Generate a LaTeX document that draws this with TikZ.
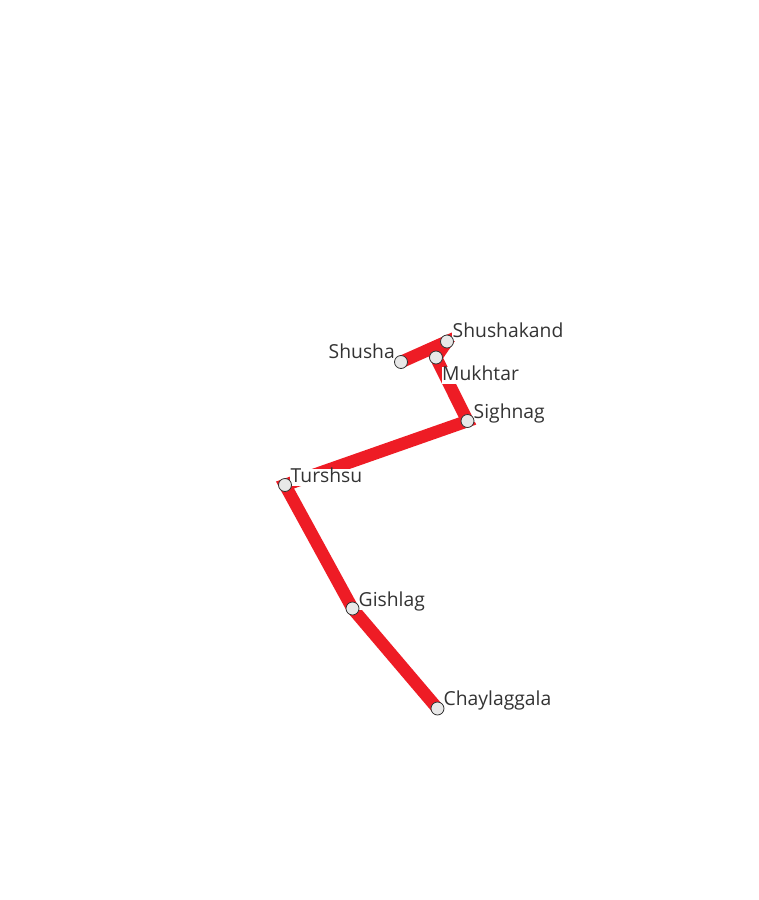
\documentclass[tikz,border=0pt]{standalone}
\usepackage{fontspec}
\setmainfont{Open Sans}
\usepackage{tikz}
\usetikzlibrary{positioning}
\definecolor{linered}{HTML}{EE1C25}
\definecolor{stopgray}{HTML}{E8E8E8}
\definecolor{labelgray}{HTML}{333333}
\tikzstyle{stop} = [circle, draw=black!80, fill=stopgray, line width=0.8pt, minimum size=13pt, inner sep=0pt]
\tikzstyle{place} = [fill=white, text=labelgray, font=\fontsize{19.3}{20}\selectfont, inner sep=0.5pt, text height=13pt, text depth=3pt]
\tikzstyle{line} = [linered, line width=12.5pt, line cap=butt, miter limit=10]

\begin{document}
\begin{tikzpicture}[x=1pt, y=-1pt, node distance=0pt]
        \useasboundingbox (0,0) rectangle (759,900);
        \fill[white] (0,0) rectangle (759,900);
        % stations
        \coordinate (shusha) at (401,362);
        \coordinate (shushakand) at (447,341.5);
        \coordinate (mukhtar) at (436,357.5);
        \coordinate (sighnag) at (467.5,421);
        \coordinate (turshsu) at (285,485);
        \coordinate (gishlag) at (352.5,608.5);
        \coordinate (chaylaggala) at (437.5,708.5);

        \draw[line] (shusha) -- (shushakand) -- (mukhtar) -- (sighnag) -- (turshsu) -- (gishlag) -- (chaylaggala);

        % labels
        \node (shusha_l) [place, anchor=east] at (395.5,353) {Shusha};
        \node (shushakand_l) [place, anchor=west] at (452,332.5) {Shushakand};
        \node (mukhtar_l) [place, anchor=west] at (441.5,375) {Mukhtar};
        \node (sighnag_l) [place, anchor=west] at (473,413.5) {Sighnag};
        \node (turshsu_l) [place, anchor=west] at (290,477) {Turshsu};
        \node (gishlag_l) [place, anchor=west] at (358,601) {Gishlag};
        \node (chaylaggala_l) [place, anchor=west] at (443,700.5) {Chaylaggala};

        \node (shusha_s) [stop] at (shusha) {};
        \node (shushakand_s) [stop] at (shushakand) {};
        \node (mukhtar_s) [stop] at (mukhtar) {};
        \node (sighnag_s) [stop] at (sighnag) {};
        \node (turshsu_s) [stop] at (turshsu) {};
        \node (gishlag_s) [stop] at (gishlag) {};
        \node (chaylaggala_s) [stop] at (chaylaggala) {};
    \end{tikzpicture}
\end{document}
